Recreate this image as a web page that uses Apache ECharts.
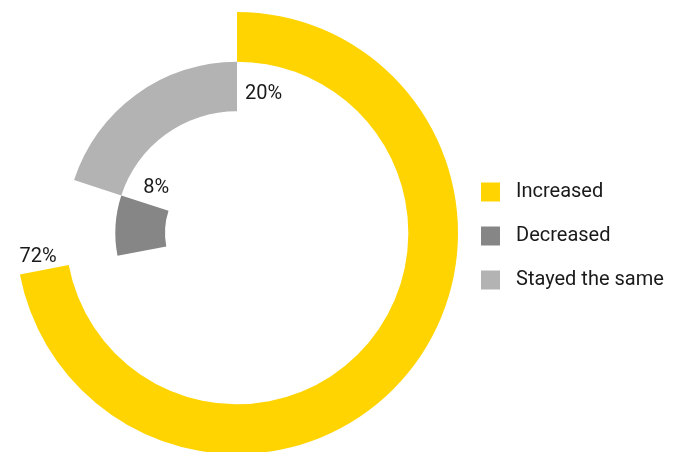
<!DOCTYPE html>
<html>
<head>
<meta charset="utf-8">
<script src="https://cdn.jsdelivr.net/npm/echarts@6/dist/echarts.min.js"></script>
<style>
html,body{margin:0;padding:0;background:#fff;}
#chart{width:683px;height:452px;}
</style>
</head>
<body>
<div id="chart"></div>
<script>
// Data
const categories = ['Increased', 'Decreased', 'Stayed the same'];
const values = [72, 8, 20];
const colors = ['#FFD400', '#868686', '#B3B3B3'];
// ring order from inner to outer
const ringOrder = ['Decreased', 'Stayed the same', 'Increased'];
// label nudges (style only)
const labelOffsets = [[-24, -9], [-3, -11], [4, 7]];

// each segment starts where the previous one ends (cumulative)
const starts = [];
let acc = 0;
values.forEach(v => { starts.push(acc); acc += v; });

const placeholder = ringOrder.map(r => starts[categories.indexOf(r)]);

const series = [{
  type: 'bar',
  coordinateSystem: 'polar',
  stack: 'ring',
  barCategoryGap: '0%',
  silent: true,
  itemStyle: { color: 'rgba(0,0,0,0)' },
  data: placeholder,
  name: '_offset'
}];
categories.forEach((c, i) => {
  series.push({
    type: 'bar',
    coordinateSystem: 'polar',
    stack: 'ring',
    barCategoryGap: '0%',
    name: c,
    itemStyle: { color: colors[i] },
    label: {
      show: true,
      position: 'end',
      rotate: 0,
      distance: 4,
      offset: labelOffsets[i],
      fontFamily: 'Roboto',
      fontSize: 20,
      color: '#1a1a1a',
      formatter: p => p.value ? p.value + '%' : ''
    },
    data: ringOrder.map(r => r === c ? values[i] : 0)
  });
});

const chart = echarts.init(document.getElementById('chart'));
chart.setOption({
  animation: false,
  polar: { center: [237, 233], radius: [72, 221] },
  angleAxis: { type: 'value', min: 0, max: 100, startAngle: 90, clockwise: true, show: false },
  radiusAxis: { type: 'category', data: ringOrder, show: false },
  legend: {
    data: categories,
    orient: 'vertical',
    left: 481,
    top: 182,
    padding: 0,
    itemWidth: 19,
    itemHeight: 19,
    itemGap: 24,
    icon: 'rect',
    textStyle: { fontFamily: 'Roboto', fontSize: 20, lineHeight: 19, color: '#1a1a1a', padding: [0, 0, 0, 11] }
  },
  series: series
});
</script>
</body>
</html>
